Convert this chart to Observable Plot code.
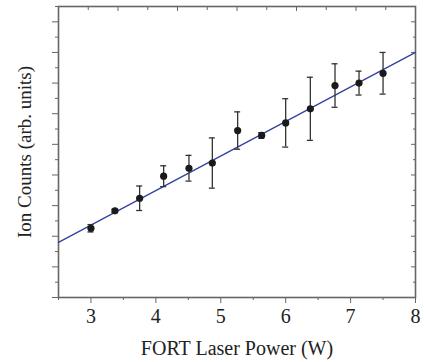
<!DOCTYPE html>
<html>
<head>
<meta charset="utf-8">
<script src="https://cdn.jsdelivr.net/npm/d3@7"></script>
<script src="https://cdn.jsdelivr.net/npm/@observablehq/plot@0.6"></script>
<style>
  html, body { margin: 0; padding: 0; background: #fff; }
  svg text { font-family: 'Liberation Serif', 'Times New Roman', serif; }
</style>
</head>
<body>
<div id="chart"></div>
<script>
// Data
const power  = [3.00, 3.37, 3.75, 4.12, 4.51, 4.87, 5.26, 5.63, 6.00, 6.38, 6.76, 7.13, 7.50];
const counts = [2.26, 2.83, 3.24, 3.96, 4.22, 4.39, 5.45, 5.29, 5.70, 6.16, 6.92, 7.00, 7.32];
const errs   = [0.12, 0.05, 0.40, 0.34, 0.42, 0.82, 0.61, 0.09, 0.79, 1.03, 0.71, 0.39, 0.68];

// Linear fit line endpoints
const fitX = [2.5, 8.0];
const fitY = [1.80, 8.00];

// Axis tick values
const xMajor = [3, 4, 5, 6, 7, 8];
const xMinor = [2.5, 3.5, 4.5, 5.5, 6.5, 7.5];
const yMajor = [0, 1, 2, 3, 4, 5, 6, 7, 8, 9];
const yMinor = [0.5, 1.5, 2.5, 3.5, 4.5, 5.5, 6.5, 7.5, 8.5, 9.5];
const topMajor = [2.5, 3.4167, 4.3333, 5.25, 6.1667, 7.0833, 8.0];
const topMinor = [2.9583, 3.875, 4.7917, 5.7083, 6.625, 7.5417];

const points = power.map((p, i) => ({p, c: counts[i], lo: counts[i] - errs[i], hi: counts[i] + errs[i]}));
const fit = fitX.map((x, i) => ({x, y: fitY[i]}));

const axisColor = "#666";
const barColor = "#333";

const chart = Plot.plot({
  width: 424,
  height: 362,
  marginLeft: 58,
  marginRight: 9,
  marginTop: 6,
  marginBottom: 65,
  style: {fontFamily: "'Liberation Serif', 'Times New Roman', serif", fontSize: "19px", color: "#222", background: "#fff"},
  x: {type: "linear", domain: [2.5, 8]},
  y: {type: "linear", domain: [0, 9.5]},
  marks: [
    // bottom axis
    Plot.axisX({anchor: "bottom", ticks: xMajor, tickFormat: d3.format("d"), tickSize: 6, tickPadding: 5, stroke: axisColor, fontSize: 20,
      label: "FORT Laser Power (W)", labelAnchor: "center", labelArrow: "none", labelOffset: 57}),
    Plot.axisX({anchor: "bottom", ticks: xMinor, tickSize: 3, text: null, label: null, stroke: axisColor}),
    // top axis (inward)
    Plot.axisX({anchor: "top", ticks: topMajor, tickSize: -4, text: null, label: null, stroke: axisColor}),
    Plot.axisX({anchor: "top", ticks: topMinor, tickSize: -3, text: null, label: null, stroke: axisColor}),
    // left axis
    Plot.axisY({anchor: "left", ticks: yMajor, tickSize: 6, text: null, stroke: axisColor,
      label: "Ion Counts (arb. units)", labelAnchor: "center", labelArrow: "none", labelOffset: 41, fontSize: 19}),
    Plot.axisY({anchor: "left", ticks: yMinor, tickSize: 3, text: null, label: null, stroke: axisColor}),
    // right axis (inward)
    Plot.axisY({anchor: "right", ticks: yMajor, tickSize: -5, text: null, label: null, stroke: axisColor}),
    Plot.axisY({anchor: "right", ticks: yMinor, tickSize: -3, text: null, label: null, stroke: axisColor}),
    Plot.frame({stroke: axisColor, strokeWidth: 1.6}),
    // fit line
    Plot.line(fit, {x: "x", y: "y", stroke: "#3340a0", strokeWidth: 1.3}),
    // error bars
    Plot.ruleX(points, {x: "p", y1: "lo", y2: "hi", stroke: barColor, strokeWidth: 1.3}),
    Plot.ruleY(points, {y: "lo", x1: "p", x2: "p", insetLeft: -3, insetRight: -3, stroke: barColor, strokeWidth: 1.3}),
    Plot.ruleY(points, {y: "hi", x1: "p", x2: "p", insetLeft: -3, insetRight: -3, stroke: barColor, strokeWidth: 1.3}),
    Plot.dot(points, {x: "p", y: "c", r: 3.6, fill: "#1a1a1a", stroke: "none"})
  ]
});
document.getElementById("chart").appendChild(chart);
</script>
</body>
</html>
